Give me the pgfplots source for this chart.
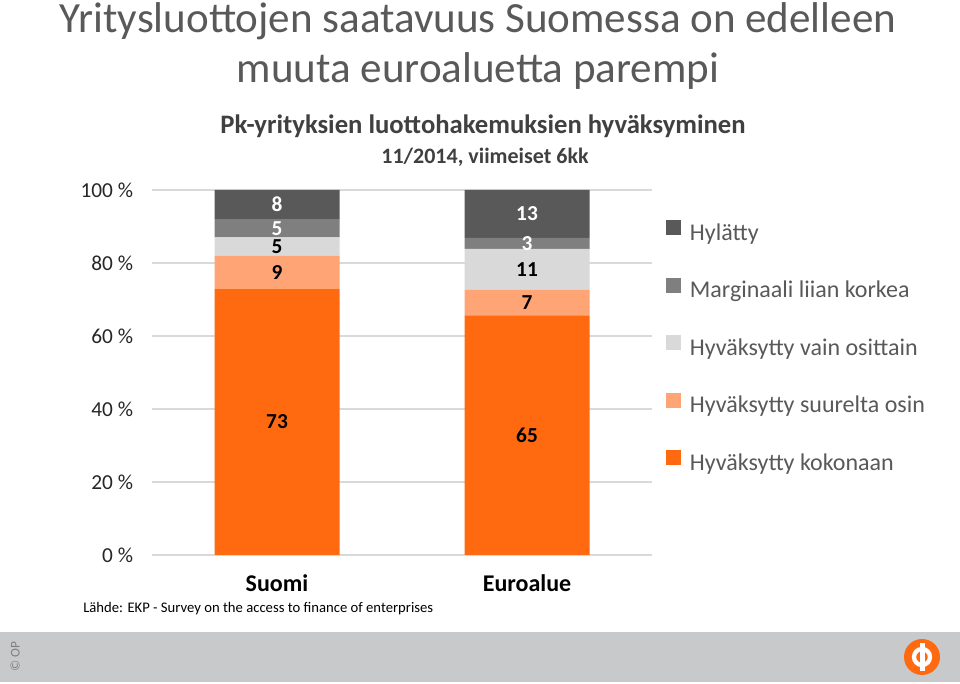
\documentclass[border=0pt]{standalone}
\usepackage{fontspec}
\setmainfont{Carlito}
\usepackage{pgfplots}
\pgfplotsset{compat=1.18}

\definecolor{titlegray}{HTML}{595959}
\definecolor{subgray}{HTML}{404040}
\definecolor{tickgray}{HTML}{262626}
\definecolor{gridgray}{HTML}{D9D9D9}
\definecolor{footgray}{HTML}{C8C9CB}
\definecolor{hyl}{HTML}{595959}
\definecolor{marg}{HTML}{7F7F7F}
\definecolor{osit}{HTML}{D9D9D9}
\definecolor{suur}{HTML}{FFA474}
\definecolor{koko}{HTML}{FF6A10}

\begin{document}
\begin{tikzpicture}[x=0.75pt,y=0.75pt]
% page = 960 x 684 px, 1 px = 0.75pt
\path[use as bounding box, fill=white] (0,0) rectangle (960,684);

% titles
\node[anchor=base, text=titlegray, font=\fontsize{32.3}{36}\selectfont] at (478,651) {Yritysluottojen saatavuus Suomessa on edelleen};
\node[anchor=base, text=titlegray, font=\fontsize{32.3}{36}\selectfont] at (478,601) {muuta euroaluetta parempi};
\node[anchor=base, text=subgray, font=\fontsize{20}{24}\selectfont\bfseries] at (483,550) {Pk-yrityksien luottohakemuksien hyväksyminen};
\node[anchor=base, text=subgray, font=\fontsize{16.5}{20}\selectfont\bfseries] at (485,520) {11/2014, viimeiset 6kk};

% source
\node[anchor=base west, inner sep=0pt, font=\fontsize{11}{13}\selectfont] at (83,71) {Lähde: EKP - Survey on the access to finance of enterprises};

% footer band
\fill[footgray] (0,2) rectangle (960,52);
\node[rotate=90, text=gray, font=\fontsize{10}{12}\selectfont] at (15,27) {© OP};
\fill[koko] (922,27) circle (18);
\draw[white, line width=3.2pt] (922,27) circle (8);
\fill[white] (919.5,13) rectangle (924.5,41);

\begin{axis}[
    at={(114pt,96.75pt)}, anchor=south west,
    scale only axis, width=375pt, height=273.75pt,
    ybar stacked, bar width=93.75pt,
    xmin=-0.5, xmax=1.5, ymin=0, ymax=100,
    axis line style={draw=none},
    major tick length=0pt,
    ytick={0,20,40,60,80,100},
    ymajorgrids, grid style={draw=gridgray, line width=1pt},
    xtick={0,1}, xticklabels={Suomi,Euroalue},
    xticklabel style={font=\fontsize{18}{21}\selectfont\bfseries, anchor=north, inner sep=0pt, yshift=-14.5pt},
    yticklabel={\pgfmathprintnumber[assume math mode=true]{\tick}\ \%},
    yticklabel style={font=\fontsize{16}{19}\selectfont, text=tickgray, anchor=east, inner sep=0pt, xshift=-14pt},
    nodes near coords, point meta=explicit symbolic,
    every node near coord/.append style={font=\fontsize{16}{19}\selectfont\bfseries, anchor=center, inner sep=0pt},
    reverse legend, legend cell align=left,
    legend style={at={(1.028,0.918)}, anchor=north west, draw=none, fill=none, inner sep=0pt,
        font=\fontsize{18}{21}\selectfont, text=titlegray, row sep=23.85pt, column sep=6.5pt,
        nodes={inner sep=0pt, text height=12pt, text depth=4pt}},
    legend image code/.code={\fill[#1] (0pt,0pt) rectangle (11.25pt,11.25pt);},
]
\addplot[fill=koko, draw=none] coordinates {(0,73) [73] (1,65.66) [65]};
\addplot[fill=suur, draw=none] coordinates {(0,9) [9] (1,7.07) [7]};
\addplot[fill=osit, draw=none] coordinates {(0,5) [5] (1,11.11) [11]};
\addplot[fill=marg, draw=none, every node near coord/.append style={text=white}] coordinates {(0,5) [5] (1,3.03) [3]};
\addplot[fill=hyl, draw=none, every node near coord/.append style={text=white}] coordinates {(0,8) [8] (1,13.13) [13]};
\legend{Hyväksytty kokonaan, Hyväksytty suurelta osin, Hyväksytty vain osittain, Marginaali liian korkea, Hylätty}
\end{axis}
\end{tikzpicture}
\end{document}
